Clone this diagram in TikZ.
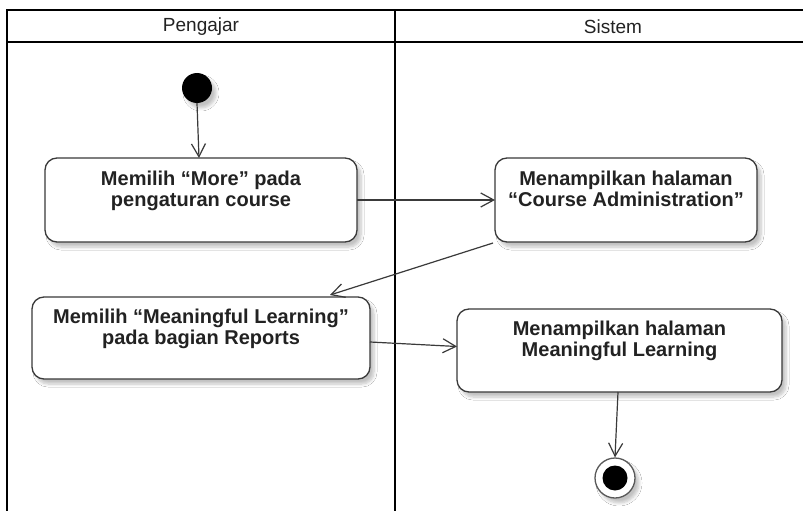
\documentclass[tikz,border=0pt]{standalone}
\usepackage{fontspec}
\setmainfont{Liberation Sans}
\usetikzlibrary{arrows.meta,shadows.blur}

\definecolor{ink}{HTML}{222222}
\definecolor{edge}{HTML}{3A3A3A}

\tikzset{
  lane/.style={line width=2.6pt, draw=black},
  lanetitle/.style={font=\fontsize{19}{20}\selectfont, text=ink, inner sep=0pt},
  softshadow/.style={blur shadow={shadow xshift=4pt, shadow yshift=-5pt,
      shadow blur steps=6, shadow blur radius=3pt, shadow opacity=24}},
  actbox/.style={draw=edge, line width=1.3pt, rounded corners=12pt, fill=white,
      inner sep=0pt, outer sep=0pt, softshadow},
  acttext/.style={font=\bfseries\fontsize{20}{20.5}\selectfont, text=ink,
      align=center, inner sep=0pt},
  flow/.style={draw=edge, line width=1.2pt,
      -{Straight Barb[length=13pt,width=14pt]}},
  startdot/.style={circle, fill=black, minimum size=30pt, inner sep=0pt, softshadow},
  enddot/.style={circle, draw=black!65, line width=1.3pt, fill=white,
      minimum size=40pt, inner sep=0pt, softshadow},
}

\begin{document}
\begin{tikzpicture}[x=1pt,y=-1pt]
  \useasboundingbox (0,0) rectangle (803,511);
  \fill[white] (0,0) rectangle (803,511);

  % swimlanes
  \begin{scope}
    \clip (0,0) rectangle (803,511);
    \draw[lane] (7,530) -- (7,10) -- (840,10);
    \draw[lane] (7,42) -- (840,42);
    \draw[lane] (395,10) -- (395,530);
  \end{scope}
  \node[lanetitle] (laneA) at (201,27) {Pengajar};
  \node[lanetitle] (laneB) at (613,27) {Sistem};

  % initial node
  \node[startdot] (start) at (197,88) {};

  % actions
  \node[actbox, minimum width=312pt, minimum height=84pt] (b1) at (201,200) {};
  \node[acttext, anchor=north] (t1) at (201,171) {Memilih “More” pada\\pengaturan course};

  \node[actbox, minimum width=262pt, minimum height=84pt] (b2) at (626,200) {};
  \node[acttext, anchor=north] (t2) at (626,171) {Menampilkan halaman\\“Course Administration”};

  \node[actbox, minimum width=338pt, minimum height=82pt] (b3) at (201,338) {};
  \node[acttext, anchor=north] (t3) at (201,309) {Memilih “Meaningful Learning”\\pada bagian Reports};

  \node[actbox, minimum width=325pt, minimum height=83pt] (b4) at (619.5,350.5) {};
  \node[acttext, anchor=north] (t4) at (619.5,321) {Menampilkan halaman\\Meaningful Learning};

  % final node
  \node[enddot] (final) at (615,478) {};
  \fill[black] (final.center) circle (12.5pt);

  % control flow
  \draw[flow] (start.south) -- ([xshift=-2pt]b1.north);
  \draw[flow] (b1.east) -- (b2.west);
  \draw[flow] ([xshift=-2pt,yshift=-1pt]b2.south west) -- ([xshift=-40pt,yshift=2pt]b3.north east);
  \draw[flow] ([yshift=-4pt]b3.east) -- ([yshift=4pt]b4.west);
  \draw[flow] ([xshift=-1.5pt]b4.south) -- (final.north);
\end{tikzpicture}
\end{document}
